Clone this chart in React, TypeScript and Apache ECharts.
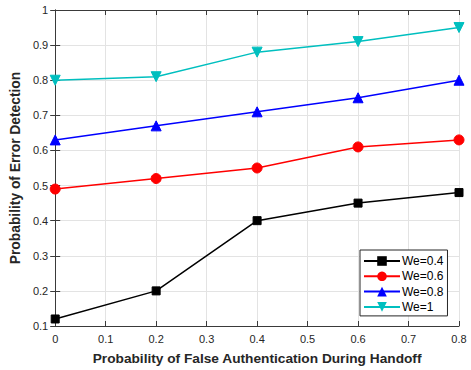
import React, { useEffect, useRef } from "react";
import * as echarts from "echarts";

const xValues = [0, 0.2, 0.4, 0.6, 0.8];
const seriesNames = ["We=0.4", "We=0.6", "We=0.8", "We=1"];
const we04 = [0.12, 0.2, 0.4, 0.45, 0.48];
const we06 = [0.49, 0.52, 0.55, 0.61, 0.63];
const we08 = [0.63, 0.67, 0.71, 0.75, 0.8];
const we1 = [0.8, 0.81, 0.88, 0.91, 0.95];
const colors = ["#000000", "#ff0000", "#0000ff", "#00bfbf"];
const symbols = ["rect", "circle", "triangle", "triangle"];
const symbolSizes = [8, 10, 10, 10];
const rotations = [0, 0, 0, 180];

export default function App() {
  const ref = useRef<HTMLDivElement>(null);
  useEffect(() => {
    if (!ref.current) return;
    const chart = echarts.init(ref.current, null, { renderer: "svg" });
    const all = [we04, we06, we08, we1];
    const axisColor = "#3a3a3a";
    const font = "Liberation Sans, Arial, sans-serif";
    chart.setOption({
      animation: false,
      backgroundColor: "#ffffff",
      grid: { left: 54, right: 12, top: 10, bottom: 43, containLabel: false },
      legend: {
        orient: "vertical",
        left: 360,
        top: 250,
        itemWidth: 36,
        itemHeight: 12,
        itemGap: 3.3,
        padding: [5, 4, 3, 3],
        backgroundColor: "#ffffff",
        borderColor: "#262626",
        borderWidth: 1,
        borderRadius: 0,
        textStyle: { fontFamily: font, fontSize: 12, color: "#000", padding: [0, 0, 0, -3] },
        data: seriesNames,
      },
      xAxis: [
        {
          type: "value",
          min: 0,
          max: 0.8,
          interval: 0.1,
          name: "Probability of False Authentication During Handoff",
          nameLocation: "middle",
          nameGap: 25,
          nameTextStyle: { fontFamily: font, fontSize: 13.7, fontWeight: "bold", color: "#262626" },
          axisLine: { show: true, lineStyle: { color: axisColor, width: 1 } },
          axisTick: { show: true, inside: true, length: 5, lineStyle: { color: axisColor } },
          axisLabel: { fontFamily: font, fontSize: 11, color: "#262626", margin: 7, formatter: (v: number) => String(Math.round(v * 10) / 10) },
          splitLine: { show: true, lineStyle: { color: "#e3e3e3", width: 1 } },
        },
        {
          type: "value",
          position: "top",
          min: 0,
          max: 0.8,
          interval: 0.1,
          axisLine: { show: true, lineStyle: { color: axisColor, width: 1 } },
          axisTick: { show: true, inside: true, length: 5, lineStyle: { color: axisColor } },
          axisLabel: { show: false },
          splitLine: { show: false },
        },
      ],
      yAxis: [
        {
          type: "value",
          min: 0.1,
          max: 1,
          interval: 0.1,
          name: "Probability of Error Detection",
          nameLocation: "middle",
          nameGap: 27,
          nameTextStyle: { fontFamily: font, fontSize: 13.8, fontWeight: "bold", color: "#262626" },
          axisLine: { show: true, lineStyle: { color: axisColor, width: 1 } },
          axisTick: { show: true, inside: true, length: 5, lineStyle: { color: axisColor } },
          axisLabel: { fontFamily: font, fontSize: 11, color: "#262626", margin: 7, formatter: (v: number) => String(Math.round(v * 10) / 10) },
          splitLine: { show: true, lineStyle: { color: "#e3e3e3", width: 1 } },
        },
        {
          type: "value",
          position: "right",
          min: 0.1,
          max: 1,
          interval: 0.1,
          axisLine: { show: true, lineStyle: { color: axisColor, width: 1 } },
          axisTick: { show: true, inside: true, length: 5, lineStyle: { color: axisColor } },
          axisLabel: { show: false },
          splitLine: { show: false },
        },
      ],
      series: seriesNames.map((name, i) => ({
        name,
        type: "line",
        xAxisIndex: 0,
        yAxisIndex: 0,
        data: xValues.map((x, j) => [x, all[i][j]]),
        symbol: symbols[i],
        symbolSize: symbolSizes[i],
        symbolRotate: rotations[i],
        showSymbol: true,
        lineStyle: { color: colors[i], width: 1.5 },
        itemStyle: { color: colors[i], borderColor: colors[i] },
        z: 3,
      })),
    });
    return () => chart.dispose();
  }, []);
  return <div ref={ref} style={{ width: 471, height: 370, position: "absolute", left: 0, top: 0 }} />;
}
